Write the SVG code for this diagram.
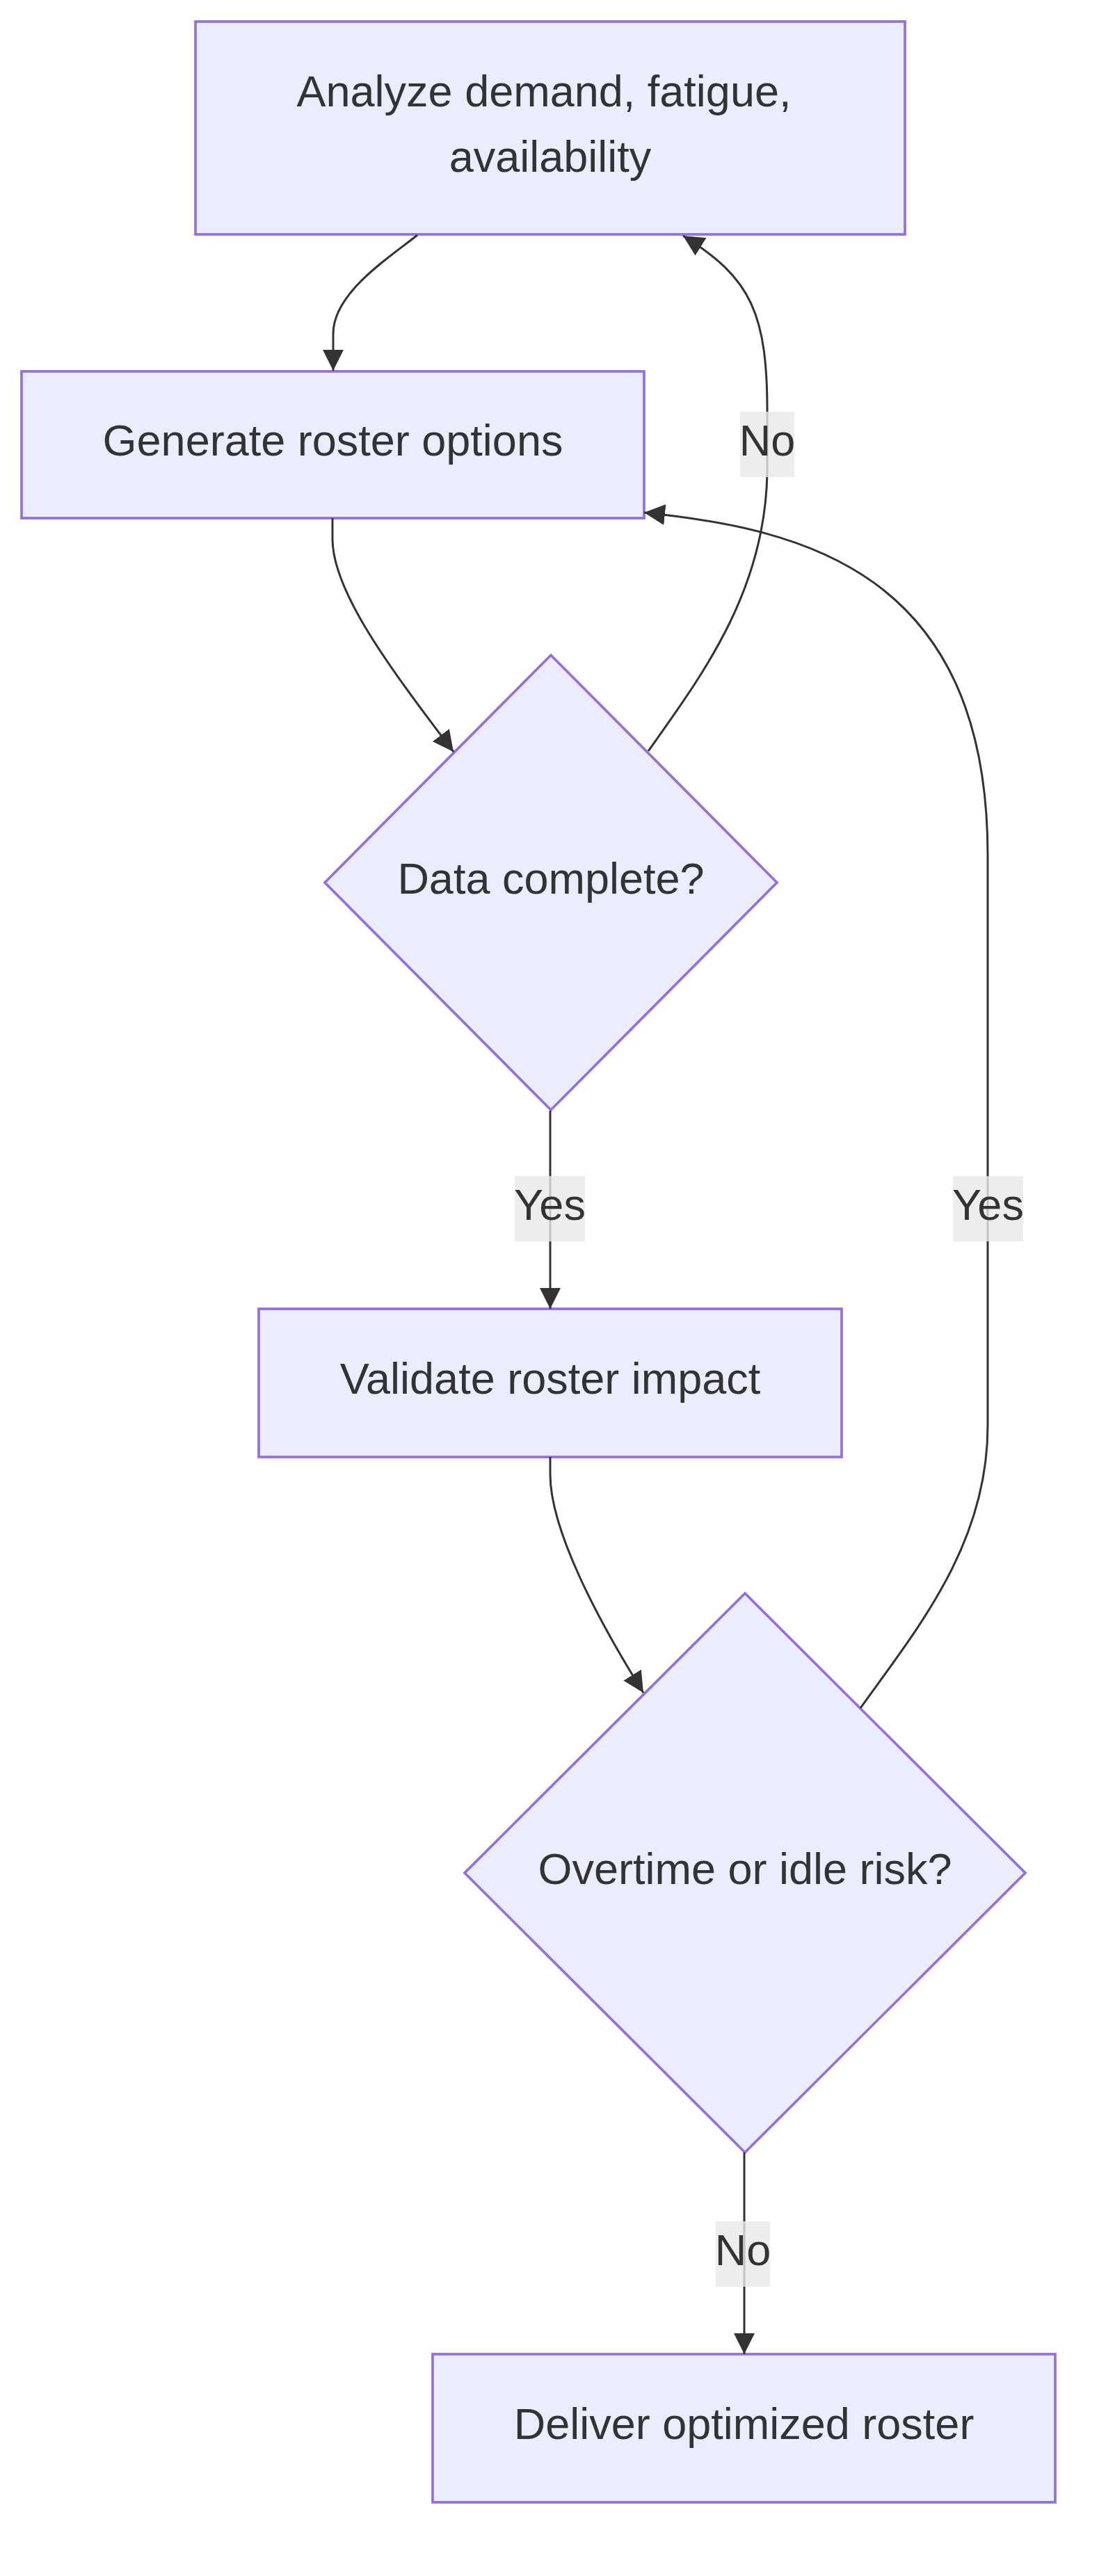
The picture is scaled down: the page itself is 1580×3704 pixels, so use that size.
<svg xmlns="http://www.w3.org/2000/svg" width="1580" height="3704" viewBox="0 0 1580 3704">
<style>
.node rect,.node polygon{fill:#ECECFF;stroke:#9370DB;stroke-width:3.7}
.lbl{font-family:"Liberation Sans",Arial,Helvetica,sans-serif;font-size:63px;fill:#333333;text-anchor:middle}
.edge{fill:none;stroke:#333333;stroke-width:3}
.elbg{fill:rgba(232,232,232,0.8);stroke:none}
</style>
<defs>
<marker id="arrow" viewBox="0 0 10 10" refX="10" refY="5" markerUnits="userSpaceOnUse" markerWidth="30" markerHeight="30" orient="auto">
<path d="M0,0 L10,5 L0,10 z" fill="#333333"/>
</marker>
</defs>
<rect width="1580" height="3704" fill="#ffffff"/>
<g id="nodes">
<g id="A" class="node"><rect x="281" y="31" width="1020" height="306"/><text class="lbl" x="782" y="153">Analyze demand, fatigue,</text><text class="lbl" x="791" y="247">availability</text></g>
<g id="B" class="node"><rect x="31" y="534" width="895" height="211"/><text class="lbl" x="478.5" y="655">Generate roster options</text></g>
<g id="C" class="node"><polygon points="792,942 1117,1269 792,1596 467,1269"/><text class="lbl" x="792" y="1285">Data complete?</text></g>
<g id="D" class="node"><rect x="372" y="1882" width="838" height="213"/><text class="lbl" x="791" y="2004">Validate roster impact</text></g>
<g id="E" class="node"><polygon points="1071,2291 1474,2693 1071,3095 668,2693"/><text class="lbl" x="1071" y="2709">Overtime or idle risk?</text></g>
<g id="F" class="node"><rect x="622" y="3385" width="895" height="213"/><text class="lbl" x="1069.5" y="3507">Deliver optimized roster</text></g>
</g>
<g id="connectors">
<path class="edge" marker-end="url(#arrow)" d="M600,338 C563,368 479,420 479,480 L479,533"/>
<path class="edge" marker-end="url(#arrow)" d="M478,745 L478,775 C478,850 560,960 652,1081"/>
<path class="edge" marker-end="url(#arrow)" d="M932,1080 C1010,970 1100,850 1103,680 L1103,600 C1104,450 1080,400 982,339"/>
<path class="edge" marker-end="url(#arrow)" d="M791,1597 L791,1882"/>
<path class="edge" marker-end="url(#arrow)" d="M791,2095 L791,2120 C791,2200 860,2330 925,2434"/>
<path class="edge" marker-end="url(#arrow)" d="M1237,2456 C1320,2340 1420,2220 1420,2050 L1420,1230 C1420,820 1150,760 926,737"/>
<path class="edge" marker-end="url(#arrow)" d="M1070,3095 L1070,3385"/>
</g>
<g id="edge-labels">
<g><rect class="elbg" x="1064" y="592" width="78" height="94"/><text class="lbl" x="1103" y="655">No</text></g>
<g><rect class="elbg" x="740" y="1691" width="101" height="94"/><text class="lbl" x="790.5" y="1754">Yes</text></g>
<g><rect class="elbg" x="1370" y="1691" width="101" height="94"/><text class="lbl" x="1420.5" y="1754">Yes</text></g>
<g><rect class="elbg" x="1029" y="3194" width="78" height="94"/><text class="lbl" x="1068" y="3257">No</text></g>
</g>
</svg>
